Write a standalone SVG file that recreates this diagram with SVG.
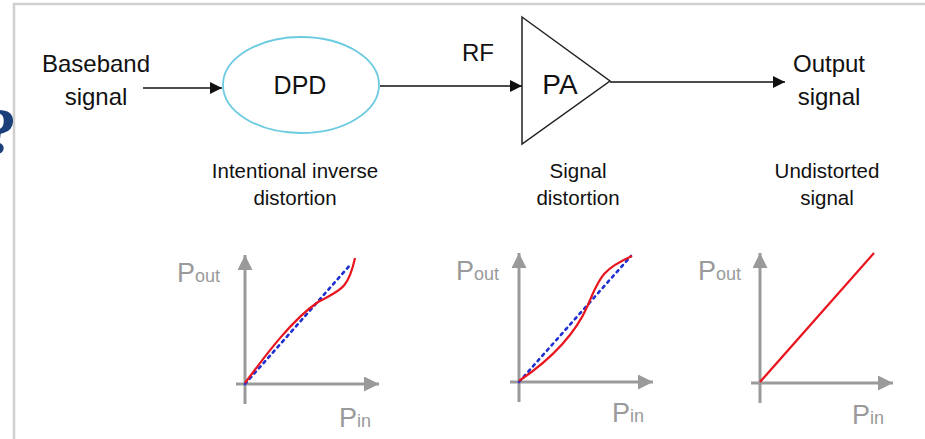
<svg xmlns="http://www.w3.org/2000/svg" width="925" height="439" viewBox="0 0 925 439">
<defs>
<style>
.t{font-family:"Liberation Sans",Arial,sans-serif;fill:#111;text-anchor:middle}
.big{font-size:24px}
.sm{font-size:20.5px}
.ax{stroke:#9a9a9a;stroke-width:3;fill:none}
.axl{font-family:"Liberation Sans",Arial,sans-serif;fill:#9a9a9a}
.red{stroke:#e8141e;stroke-width:2.2;fill:none}
.blue{stroke:#2030d0;stroke-width:2.6;fill:none;stroke-dasharray:2.5 4.5;stroke-linecap:round}
.ln{stroke:#111;stroke-width:1.5;fill:none}
</style>
<marker id="ar" viewBox="0 0 10 10" refX="10" refY="5" markerWidth="18" markerHeight="12" markerUnits="userSpaceOnUse" orient="auto"><path d="M0,0 L10,5 L0,10 z" fill="#111"/></marker>
<marker id="ga" viewBox="0 0 10 10" refX="10" refY="5" markerWidth="18" markerHeight="15" markerUnits="userSpaceOnUse" orient="auto"><path d="M0,0 L10,5 L0,10 z" fill="#9a9a9a"/></marker>
</defs>
<rect width="925" height="439" fill="#fff"/>
<path d="M14,439 L14,4 L925,4" fill="none" stroke="#cfcfcf" stroke-width="2.5"/>
<text x="-16" y="153" font-family="Liberation Serif,serif" font-weight="bold" font-size="66" fill="#1b3f78">?</text>

<g id="connectors">
<line class="ln" x1="143" y1="88" x2="222" y2="88" marker-end="url(#ar)"/>
<line class="ln" x1="380" y1="86" x2="522" y2="86" marker-end="url(#ar)"/>
<line class="ln" x1="610" y1="82" x2="785" y2="82" marker-end="url(#ar)"/>
</g>

<g id="baseband">
<text class="t big" x="96" y="72">Baseband</text>
<text class="t big" x="96" y="105">signal</text>
</g>
<g id="dpd">
<ellipse cx="301" cy="85" rx="78" ry="48" fill="#fff" stroke="#6ccbe0" stroke-width="1.8"/>
<text class="t" x="300" y="94" font-size="25">DPD</text>
</g>
<text class="t big" x="478" y="61">RF</text>
<g id="pa">
<path d="M522,17 L610,81 L522,144 Z" fill="#fff" stroke="#222" stroke-width="1.5"/>
<text class="t" x="560" y="94" font-size="28">PA</text>
</g>
<g id="output">
<text class="t big" x="829" y="72">Output</text>
<text class="t big" x="829" y="105">signal</text>
</g>

<g id="labels">
<text class="t sm" x="295" y="178">Intentional inverse</text>
<text class="t sm" x="295" y="205">distortion</text>
<text class="t sm" x="578" y="178">Signal</text>
<text class="t sm" x="578" y="205">distortion</text>
<text class="t sm" x="827" y="178">Undistorted</text>
<text class="t sm" x="827" y="205">signal</text>
</g>

<g id="chart1">
<line class="ax" x1="245" y1="404" x2="245" y2="255" marker-end="url(#ga)"/>
<line class="ax" x1="236" y1="384" x2="379" y2="384" marker-end="url(#ga)"/>
<text class="axl" x="177" y="282"><tspan font-size="27">P</tspan><tspan font-size="18">out</tspan></text>
<text class="axl" x="339" y="427"><tspan font-size="27">P</tspan><tspan font-size="18">in</tspan></text>
<line class="blue" x1="245" y1="384" x2="351" y2="264"/>
<path class="red" d="M245,383 C268,352 292,320 318,302 C340,290 348,290 355,258"/>
</g>

<g id="chart2">
<line class="ax" x1="519" y1="402" x2="519" y2="253" marker-end="url(#ga)"/>
<line class="ax" x1="510" y1="382" x2="653" y2="382" marker-end="url(#ga)"/>
<text class="axl" x="456" y="280"><tspan font-size="27">P</tspan><tspan font-size="18">out</tspan></text>
<text class="axl" x="612" y="422"><tspan font-size="27">P</tspan><tspan font-size="18">in</tspan></text>
<line class="blue" x1="519" y1="382" x2="631" y2="256"/>
<path class="red" d="M519,381 C550,360 575,335 588,305 C600,275 605,268 632,256"/>
</g>

<g id="chart3">
<line class="ax" x1="760" y1="403" x2="760" y2="253" marker-end="url(#ga)"/>
<line class="ax" x1="751" y1="383" x2="893" y2="383" marker-end="url(#ga)"/>
<text class="axl" x="698" y="280"><tspan font-size="27">P</tspan><tspan font-size="18">out</tspan></text>
<text class="axl" x="852" y="424"><tspan font-size="27">P</tspan><tspan font-size="18">in</tspan></text>
<line class="red" x1="760" y1="382" x2="874" y2="253"/>
</g>
</svg>
